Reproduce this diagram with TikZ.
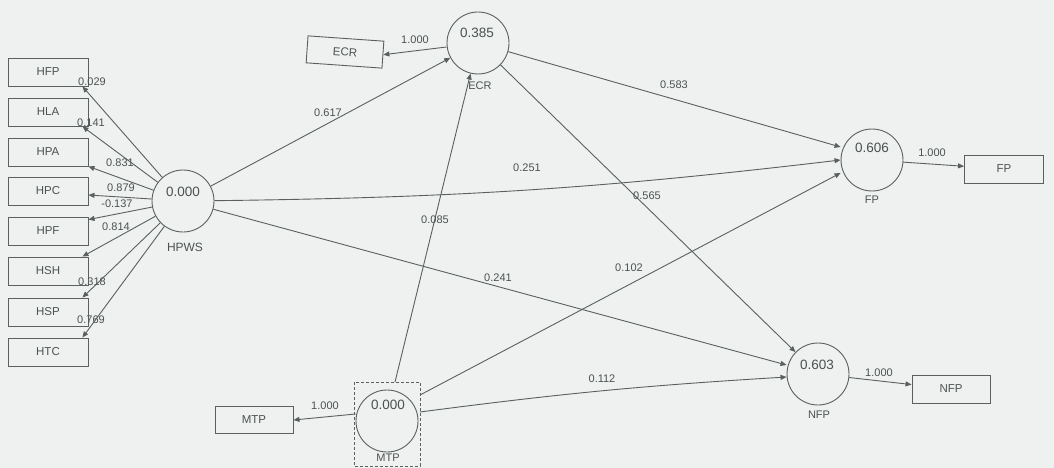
\documentclass[tikz,border=0pt]{standalone}
\usepackage{fontspec}
\setmainfont{Liberation Sans}
\usetikzlibrary{arrows.meta}
\definecolor{paper}{HTML}{EEF1F0}
\definecolor{ink}{HTML}{5A5F5F}
\definecolor{txt}{HTML}{4C5151}

\begin{document}
\begin{tikzpicture}[x=1pt,y=-1pt,
  lv/.style={circle,draw=ink,line width=0.9pt,minimum size=62pt,inner sep=0pt},
  mv/.style={rectangle,draw=ink,line width=0.9pt,minimum width=80pt,minimum height=28pt,
    inner sep=0pt,font=\fontsize{11.5}{11.5}\selectfont,text=txt},
  val/.style={font=\fontsize{13.5}{13.5}\selectfont,text=txt,inner sep=0pt},
  lvname/.style={font=\fontsize{11}{11}\selectfont,text=txt,inner sep=0pt},
  coef/.style={font=\fontsize{11}{11}\selectfont,text=txt,inner sep=0pt},
  conn/.style={draw=ink,line width=0.9pt,-{Triangle[length=6pt,width=5pt]}}
]
\fill[paper] (0,0) rectangle (1054,468);
\useasboundingbox (0,0) rectangle (1054,468);

% latent variables
\node[lv] (hpws) at (183,201) {};
\node[lv] (ecr)  at (478,43)  {};
\node[lv] (fp)   at (872,160) {};
\node[lv] (nfp)  at (818,374) {};
\node[lv] (mtp)  at (387,421) {};

% values inside the circles and names below them
\node[val] (hpwsv) at (183,192) {0.000};
\node[val] (ecrv)  at (477,33)  {0.385};
\node[val] (fpv)   at (872,148) {0.606};
\node[val] (nfpv)  at (817,365) {0.603};
\node[val] (mtpv)  at (388,405) {0.000};
\node[lvname,font=\fontsize{12}{12}\selectfont] (hpwsn) at (185,247) {HPWS};
\node[lvname] (ecrn)  at (480,86)  {ECR};
\node[lvname] (fpn)   at (872,200) {FP};
\node[lvname] (nfpn)  at (819,415) {NFP};
\node[lvname] (mtpn)  at (388,458) {MTP};

% selection frame around MTP
\draw[ink,densely dashed,line width=0.8pt] (354,382) rectangle (420,466);
\coordinate (mtpselN) at (387,382);
\coordinate (mtpselE) at (420,424);

% indicator boxes
\foreach \n/\y in {HFP/72,HLA/112,HPA/152,HPC/191,HPF/231,HSH/271,HSP/312,HTC/352}
  \node[mv] (\n) at (48,\y) {\n};
\node[mv,minimum width=76pt,minimum height=27pt,rotate=-4] (ECRbox) at (345,52) {ECR};
\node[mv,minimum width=78pt,minimum height=27pt] (MTPbox) at (254,420) {MTP};
\node[mv,minimum width=79pt,minimum height=28pt] (FPbox)  at (1004,169) {FP};
\node[mv,minimum width=78pt,minimum height=28pt] (NFPbox) at (951,389) {NFP};

% outer loadings of HPWS
\draw[conn] (hpws) -- ([xshift=-6pt]HFP.south east);
\draw[conn] (hpws) -- ([xshift=-6pt]HLA.south east);
\draw[conn] (hpws) -- (HPA.south east);
\draw[conn] (hpws) -- ([yshift=-4pt]HPC.east);
\draw[conn] (hpws) -- ([yshift=-3pt]HPF.north east);
\draw[conn] (hpws) -- ([xshift=-6pt]HSH.north east);
\draw[conn] (hpws) -- ([xshift=-6pt]HSP.north east);
\draw[conn] (hpws) -- ([xshift=-6pt]HTC.north east);
\node[coef] (lHFP) at (92,82)  {0.029};
\node[coef] (lHLA) at (91,123) {0.141};
\node[coef] (lHPA) at (120,163) {0.831};
\node[coef] (lHPC) at (121,188) {0.879};
\node[coef] (lHPCb) at (117,204) {-0.137};
\node[coef] (lHPF) at (116,227) {0.814};
\node[coef] (lHSH) at (92,282) {0.318};
\node[coef] (lHSP) at (91,320) {0.769};

% single-indicator loadings
\draw[conn] ([yshift=-4pt]ecr.west) -- (ECRbox.east);
\draw[conn] ([yshift=7pt]mtp.west) -- (MTPbox.east);
\draw[conn] (fp) -- (FPbox);
\draw[conn] (nfp) -- (NFPbox);
\node[coef] (lECR) at (415,40)  {1.000};
\node[coef] (lMTP) at (325,406) {1.000};
\node[coef] (lFP)  at (932,153) {1.000};
\node[coef] (lNFP) at (879,373) {1.000};

% structural paths
\draw[conn] (hpws) -- (ecr);
\draw[conn] (hpws) to[bend right=3] (fp.west);
\draw[conn] (hpws) -- ([yshift=9pt]nfp.west);
\draw[conn] (ecr) -- ([yshift=13pt]fp.west);
\draw[conn] (ecr) -- (nfp);
\draw[conn] ([xshift=8pt]mtpselN) -- (ecr);
\draw[conn] ([yshift=29pt]mtpselE) -- ([yshift=-13pt]fp.west);
\draw[conn] ([yshift=12pt]mtpselE) to[bend left=2] ([yshift=-3pt]nfp.west);
\node[coef] (p1) at (328,113) {0.617};
\node[coef] (p2) at (527,168) {0.251};
\node[coef] (p3) at (498,278) {0.241};
\node[coef] (p4) at (674,85)  {0.583};
\node[coef] (p5) at (647,196) {0.565};
\node[coef] (p6) at (435,220) {0.085};
\node[coef] (p7) at (629,268) {0.102};
\node[coef] (p8) at (602,379) {0.112};
\end{tikzpicture}
\end{document}
